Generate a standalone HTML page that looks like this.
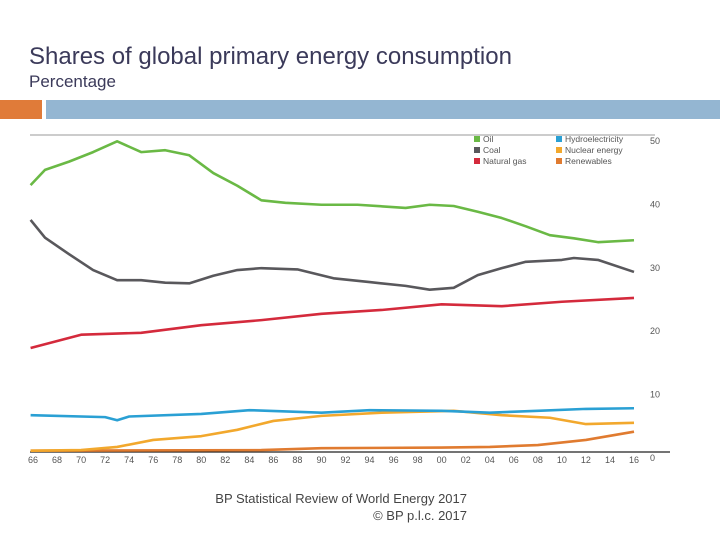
<!DOCTYPE html>
<html><head><meta charset="utf-8"><style>
body{margin:0;width:720px;height:540px;background:#fff;overflow:hidden;position:relative;font-family:"Liberation Sans",sans-serif}
.t{position:absolute;left:29px;top:43px;font-size:24px;color:#3b3a5a}
.s{position:absolute;left:29px;top:72px;font-size:17px;color:#3b3a5a}
.f{position:absolute;right:253px;top:490px;font-size:13px;color:#444;text-align:right;line-height:17px}
</style></head><body>
<div class="t">Shares of global primary energy consumption</div>
<div class="s">Percentage</div>
<div style="position:absolute;left:0;top:100px;width:42px;height:19px;background:#e07b39"></div>
<div style="position:absolute;left:46px;top:100px;width:674px;height:19px;background:#94b6d2"></div>
<svg id="c" width="720" height="540" style="position:absolute;left:0;top:0"></svg>
<div class="f">BP Statistical Review of World Energy 2017<br>© BP p.l.c. 2017</div>
<script>
const oilYears=[1965.8,1967,1969,1971,1973,1975,1977,1979,1981,1983,1985,1987,1990,1993,1997,1999,2001,2003,2005,2007,2009,2011,2013,2016];
const oil=[42.1,44.5,45.8,47.3,49,47.3,47.6,46.8,44,42,39.7,39.3,39,39,38.5,39,38.8,37.9,36.9,35.6,34.2,33.7,33.1,33.4];
const coalYears=[1965.8,1967,1969,1971,1973,1975,1977,1979,1981,1983,1985,1988,1991,1994,1997,1999,2001,2003,2005,2007,2010,2011,2013,2016];
const coal=[36.6,33.8,31.2,28.7,27.1,27.1,26.7,26.6,27.8,28.7,29,28.8,27.4,26.8,26.2,25.6,25.9,27.9,29,30,30.3,30.6,30.3,28.4];
const gasYears=[1965.8,1970,1975,1980,1985,1990,1995,2000,2005,2010,2016];
const gas=[16.4,18.5,18.8,20,20.8,21.8,22.4,23.3,23,23.7,24.3];
const hydroYears=[1965.8,1972,1973,1974,1980,1984,1990,1994,2000,2004,2008,2012,2016];
const hydro=[5.8,5.5,5,5.6,6,6.6,6.2,6.6,6.5,6.2,6.5,6.8,6.9];
const nucYears=[1965.8,1970,1973,1976,1980,1983,1986,1990,1995,2001,2005,2009,2012,2016];
const nuclear=[0.2,0.3,0.8,1.9,2.5,3.5,4.9,5.7,6.2,6.5,5.8,5.4,4.4,4.6];
const renYears=[1965.8,1985,1990,2000,2004,2008,2012,2016];
const renew=[0.2,0.3,0.6,0.7,0.8,1.1,1.9,3.2];
const yTicks=[0,10,20,30,40,50];
const xTicks=["66","68","70","72","74","76","78","80","82","84","86","88","90","92","94","96","98","00","02","04","06","08","10","12","14","16"];
const NS="http://www.w3.org/2000/svg",svg=document.getElementById('c');
const X=y=>33+(y-1966)*(634-33)/50, Y=v=>452-v*6.34;
function mk(t,a){const e=document.createElementNS(NS,t);for(const k in a)e.setAttribute(k,a[k]);svg.appendChild(e);return e;}
let e=mk('line',{x1:30,x2:655,y1:135,y2:135,stroke:'#999','stroke-width':1});

e=mk('line',{x1:30,x2:670,y1:452,y2:452,stroke:'#222','stroke-width':1.2});

yTicks.forEach(v=>{const t=mk('text',{x:650,y:Y(v)+9,'font-size':9,fill:'#555','font-family':'Liberation Sans,sans-serif'});t.textContent=v;
});
xTicks.forEach((l,i)=>{const yr=1966+i*2;const t=mk('text',{x:X(yr),y:463,'font-size':9,fill:'#555','text-anchor':'middle','font-family':'Liberation Sans,sans-serif'});t.textContent=l;
});
function series(ys,vs,col,name){const p=mk('polyline',{points:ys.map((y,i)=>X(y)+','+Y(vs[i])).join(' '),fill:'none',stroke:col,'stroke-width':2.6,'stroke-linejoin':'round'});
}
series(renYears,renew,'#e07b30','renewables-line');
series(nucYears,nuclear,'#f2a82d','nuclear-line');
series(hydroYears,hydro,'#2aa0d4','hydro-line');
series(gasYears,gas,'#d42a3c','gas-line');
series(coalYears,coal,'#59585c','coal-line');
series(oilYears,oil,'#6ab945','oil-line');
const leg=[["Oil","#6ab945",474,142],["Coal","#59585c",474,153],["Natural gas","#d42a3c",474,164],["Hydroelectricity","#2aa0d4",556,142],["Nuclear energy","#f2a82d",556,153],["Renewables","#e07b30",556,164]];
leg.forEach(l=>{const r=mk('rect',{x:l[2],y:l[3]-6,width:6,height:6,fill:l[1]});
const t=mk('text',{x:l[2]+9,y:l[3],'font-size':8.5,fill:'#555','font-family':'Liberation Sans,sans-serif'});t.textContent=l[0];
});
</script>
</body></html>
